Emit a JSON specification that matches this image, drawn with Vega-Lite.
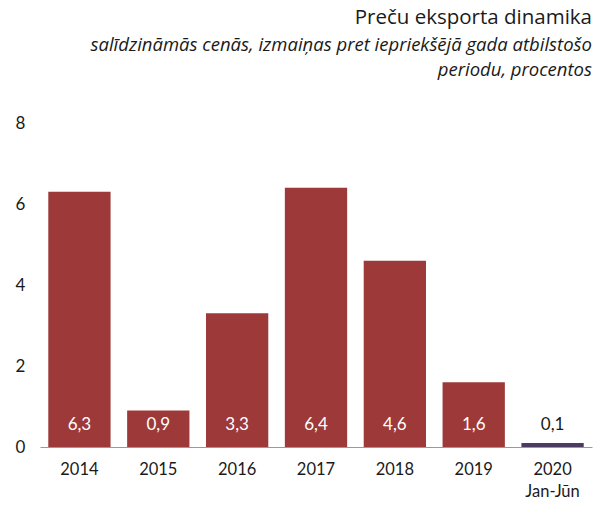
{
  "$schema": "https://vega.github.io/schema/vega-lite/v6.json",
  "width": 552,
  "height": 324,
  "autosize": {"type": "none"},
  "padding": {"left": 40, "top": 123, "right": 11, "bottom": 63},
  "background": "white",
  "title": {
    "text": "Preču eksporta dinamika",
    "subtitle": ["salīdzināmās cenās, izmaiņas pret iepriekšējā gada atbilstošo", "periodu, procentos"],
    "anchor": "end",
    "frame": "group",
    "font": "Open Sans",
    "fontSize": 20.5,
    "fontWeight": "normal",
    "color": "#1a1a1a",
    "subtitleFont": "Open Sans",
    "subtitleFontSize": 18.5,
    "subtitleFontStyle": "italic",
    "subtitleColor": "#1a1a1a",
    "subtitleLineHeight": 25,
    "subtitlePadding": 7,
    "offset": 35
  },
  "config": {
    "view": {"stroke": null},
    "locale": {"number": {"decimal": ",", "thousands": " ", "grouping": [3], "currency": ["", ""]}},
    "font": "Lato"
  },
  "data": {
    "values": [
      {"period": "2014", "value": 6.3, "kind": "gads"},
      {"period": "2015", "value": 0.9, "kind": "gads"},
      {"period": "2016", "value": 3.3, "kind": "gads"},
      {"period": "2017", "value": 6.4, "kind": "gads"},
      {"period": "2018", "value": 4.6, "kind": "gads"},
      {"period": "2019", "value": 1.6, "kind": "gads"},
      {"period": "2020 Jan-Jūn", "value": 0.1, "kind": "pusgads"}
    ]
  },
  "encoding": {
    "x": {
      "field": "period",
      "type": "nominal",
      "sort": null,
      "scale": {"paddingInner": 0.21, "paddingOuter": 0.105},
      "axis": {
        "title": null,
        "labelAngle": 0,
        "labelExpr": "split(datum.label, ' ')",
        "labelFont": "Lato",
        "labelFontSize": 16.5,
        "labelColor": "#1a1a1a",
        "labelPadding": 14,
        "labelLineHeight": 22,
        "ticks": false,
        "domainColor": "#999999",
        "domainWidth": 1,
        "grid": false
      }
    }
  },
  "layer": [
    {
      "mark": {"type": "bar"},
      "encoding": {
        "y": {
          "field": "value",
          "type": "quantitative",
          "scale": {"domain": [0, 8], "nice": false},
          "axis": {
            "title": null,
            "values": [0, 2, 4, 6, 8],
            "grid": false,
            "domain": false,
            "ticks": false,
            "tickSize": 0,
            "labelAlign": "left",
            "labelPadding": 25,
            "labelFont": "Lato",
            "labelFontSize": 17,
            "labelColor": "#1a1a1a"
          }
        },
        "color": {
          "field": "kind",
          "type": "nominal",
          "scale": {"domain": ["gads", "pusgads"], "range": ["#9d3a39", "#4b3b63"]},
          "legend": null
        }
      }
    },
    {
      "mark": {"type": "text", "baseline": "bottom", "dy": -13, "fontSize": 17, "font": "Lato"},
      "encoding": {
        "y": {"datum": 0},
        "text": {"field": "value", "type": "quantitative", "format": ".1f"},
        "color": {
          "field": "kind",
          "type": "nominal",
          "scale": {"domain": ["gads", "pusgads"], "range": ["#ffffff", "#1a1a1a"]},
          "legend": null
        }
      }
    }
  ],
  "resolve": {"scale": {"color": "independent"}}
}
